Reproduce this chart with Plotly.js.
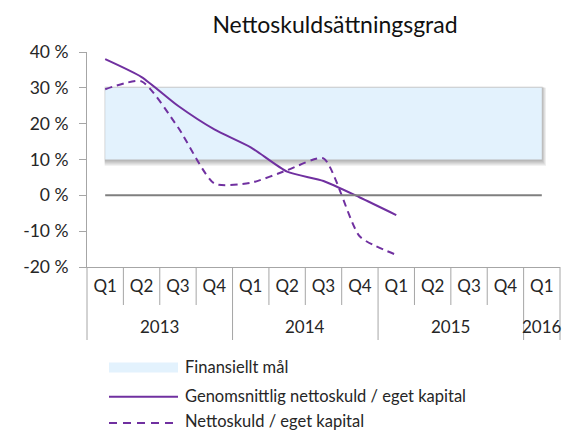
<!DOCTYPE html>
<html>
<head>
<meta charset="utf-8">
<script src="https://cdn.plot.ly/plotly-3.0.1.min.js"></script>
<style>html,body{margin:0;padding:0;background:#fff;}#chart{width:562px;height:432px;}</style>
</head>
<body>
<div id="chart"></div>
<script>
// ---- data ----
var years    = ['2013','2013','2013','2013','2014','2014','2014','2014','2015','2015','2015','2015','2016'];
var quarters = ['Q1','Q2','Q3','Q4','Q1','Q2','Q3','Q4','Q1','Q2','Q3','Q4','Q1'];
var goalLow  = [10,10,10,10,10,10,10,10,10,10,10,10,10];
var goalHigh = [30,30,30,30,30,30,30,30,30,30,30,30,30];
var avgNetDebt = [38, 33, 25, 18.4, 13.4, 6.6, 4.0, -0.6, -5.5];
var netDebt    = [29.6, 31.8, 19, 3.3, 3.5, 7.0, 10.3, -11.5, -16.6];
var yTickVals  = [-20,-10,0,10,20,30,40];
var yTickText  = ['-20 %','-10 %','0 %','10 %','20 %','30 %','40 %'];
var seriesNames = ['Finansiellt mål','Genomsnittlig nettoskuld / eget kapital','Nettoskuld / eget kapital'];
var chartTitle = 'Nettoskuldsättningsgrad';

// ---- layout helpers ----
var W = 562, H = 432;
var M = {l: 87, r: 2, t: 52, b: 165};
var plotW = W - M.l - M.r, plotH = H - M.t - M.b;
function px(x){ return (x - M.l) / plotW; }
function py(y){ return (H - M.b - y) / plotH; }

var purple = '#7030A0';
var gray = '#a6a6a6';
var font = 'Lato, "Open Sans", sans-serif';
var n = quarters.length;
var idx = quarters.map(function(_, i){ return i; });

var traces = [
  {x: idx, y: goalLow, type: 'scatter', mode: 'lines',
   line: {width: 0, color: 'rgba(0,0,0,0)'}, showlegend: false, hoverinfo: 'skip'},
  {x: idx, y: goalHigh, type: 'scatter', mode: 'lines', fill: 'tonexty',
   fillcolor: '#E3F2FD', line: {width: 0, color: 'rgba(0,0,0,0)'}, name: seriesNames[0], showlegend: false},
  {x: idx.slice(0, avgNetDebt.length), y: avgNetDebt,
   type: 'scatter', mode: 'lines', line: {color: purple, width: 2, shape: 'spline', smoothing: 0.6},
   name: seriesNames[1], showlegend: false},
  {x: idx.slice(0, netDebt.length), y: netDebt,
   type: 'scatter', mode: 'lines', line: {color: purple, width: 2, dash: '7px,5px', shape: 'spline', smoothing: 0.6},
   name: seriesNames[2], showlegend: false}
];

var shapes = [];
// shadow of the goal band
var bx0 = 0.5 / n, bx1 = (n - 0.5) / n;
for (var k = 1; k <= 6; k++) {
  shapes.push({type: 'rect', layer: 'below', xref: 'paper', yref: 'paper',
    x0: bx0 - 0.5/plotW, x1: bx1 + (k*0.7)/plotW,
    y0: py(160 + k), y1: py(86 + k*0.3),
    fillcolor: 'rgba(0,0,0,0.05)', line: {width: 0}});
}
// zero line
shapes.push({type: 'line', layer: 'above', xref: 'paper', yref: 'y', x0: bx0, x1: bx1, y0: 0, y1: 0,
  line: {color: '#7f7f7f', width: 2}});
// category boundaries below the axis (quarters short, years long)
for (var i = 0; i <= n; i++) {
  var yearEdge = (i === 0 || i === n || years[i] !== years[i-1]);
  shapes.push({type: 'line', xref: 'paper', yref: 'paper', x0: i/n, x1: i/n, y0: 0, y1: py(yearEdge ? 340 : 305),
    line: {color: gray, width: 1}});
}
// legend symbols
var legY = [367, 396, 421];
shapes.push({type: 'rect', xref: 'paper', yref: 'paper', x0: px(109), x1: px(178), y0: py(legY[0] - 4.5), y1: py(legY[0] + 5.5),
  fillcolor: '#E3F2FD', line: {width: 0}});
shapes.push({type: 'line', xref: 'paper', yref: 'paper', x0: px(109), x1: px(178), y0: py(legY[1] + 0.7), y1: py(legY[1] + 0.7),
  line: {color: purple, width: 2}});
shapes.push({type: 'line', xref: 'paper', yref: 'paper', x0: px(109), x1: px(178), y0: py(legY[2] + 2), y1: py(legY[2] + 2),
  line: {color: purple, width: 2, dash: '8px,6px'}});

var annotations = [];
seriesNames.forEach(function(s, i){
  annotations.push({xref: 'paper', yref: 'paper', x: px(184), y: py(legY[i]), xanchor: 'left', yanchor: 'middle',
    text: s, showarrow: false, borderpad: 0, font: {family: font, size: 16.5, color: '#262626'}});
});
// year labels centred under their quarters
var groups = {};
years.forEach(function(y, i){ (groups[y] = groups[y] || []).push(i); });
Object.keys(groups).forEach(function(y){
  var g = groups[y];
  var c = (g[0] + g[g.length - 1]) / 2;
  annotations.push({xref: 'x', yref: 'paper', x: c, y: py(326), xanchor: 'center', yanchor: 'middle',
    text: y, showarrow: false, font: {family: font, size: 17, color: '#262626'}});
});

var layout = {
  width: W, height: H,
  margin: M,
  paper_bgcolor: '#fff', plot_bgcolor: '#fff',
  showlegend: false,
  title: {text: chartTitle, x: px(335), xref: 'paper', xanchor: 'center', y: 1 - 25/H, yanchor: 'middle',
    font: {family: font, size: 23, color: '#111'}},
  xaxis: {range: [-0.5, n - 0.5], tickvals: idx, ticktext: quarters, showline: true, linecolor: gray, linewidth: 1,
    ticks: '', showgrid: false, zeroline: false, ticklabelstandoff: 4,
    tickfont: {family: font, size: 17, color: '#262626'}},
  yaxis: {range: [-20, 40], tickvals: yTickVals, ticktext: yTickText, showline: true, linecolor: gray, linewidth: 1,
    ticks: 'outside', ticklen: 7, tickcolor: gray, showgrid: false, zeroline: false, ticklabelstandoff: 7,
    tickfont: {family: font, size: 17.5, color: '#262626'}},
  shapes: shapes,
  annotations: annotations
};

Plotly.newPlot('chart', traces, layout, {displayModeBar: false, staticPlot: true});
</script>
</body>
</html>
